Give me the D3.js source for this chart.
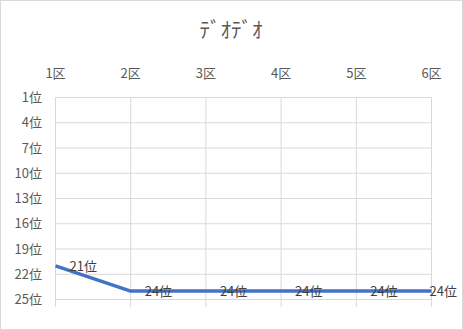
<!DOCTYPE html>
<html><head><meta charset="utf-8">
<script src="https://cdn.jsdelivr.net/npm/d3@7"></script>
<style>body{margin:0;background:#fff;} svg{display:block;}</style>
</head><body>
<svg id="c" width="463" height="330"></svg>
<script>
const title = "ﾃﾞｵﾃﾞｵ";
const categories = ["1区","2区","3区","4区","5区","6区"];
const ranks = [21,24,24,24,24,24];
const yTicks = [1,4,7,10,13,16,19,22,25];

const svg = d3.select("#c");
const font = "'Noto Sans CJK JP', sans-serif";
svg.append("rect").attr("x",0.5).attr("y",0.5).attr("width",462).attr("height",329)
  .attr("fill","#fff").attr("stroke","#d9d9d9");

const x = d3.scalePoint().domain(categories).range([55.5,431.5]);
const y = d3.scaleLinear().domain([1,25]).range([97.5,299.5]);

svg.append("g").selectAll("line").data(yTicks).join("line")
  .attr("x1",55.5).attr("x2",431.5).attr("y1",d=>y(d)).attr("y2",d=>y(d))
  .attr("stroke","#d9d9d9").attr("stroke-width",1);
svg.append("g").selectAll("line").data(categories).join("line")
  .attr("x1",d=>x(d)).attr("x2",d=>x(d)).attr("y1",97.5).attr("y2",307)
  .attr("stroke","#d9d9d9").attr("stroke-width",1);

svg.append("g").selectAll("text").data(yTicks).join("text")
  .attr("x",42).attr("y",d=>y(d)).attr("dy","0.36em").attr("text-anchor","end")
  .attr("font-family",font).attr("font-size",13).attr("fill","#595959")
  .text(d=>d+"位");
svg.append("g").selectAll("text").data(categories).join("text")
  .attr("x",d=>x(d)).attr("y",73).attr("dy","0.36em").attr("text-anchor","middle")
  .attr("font-family",font).attr("font-size",13).attr("fill","#595959")
  .text(d=>d);

svg.append("text").attr("x",231).attr("y",29).attr("dy","0.36em").attr("text-anchor","middle")
  .attr("font-family",font).attr("font-size",21).attr("fill","#595959").text(title);

const line = d3.line().x((d,i)=>x(categories[i])).y(d=>y(d));
svg.append("path").datum(ranks).attr("d",line).attr("fill","none")
  .attr("stroke","#4472C4").attr("stroke-width",3.5).attr("stroke-linejoin","round");

const n = ranks.length;
svg.append("g").selectAll("text").data(ranks).join("text")
  .attr("x",(d,i)=> i===n-1 ? 457 : x(categories[i])+14)
  .attr("text-anchor",(d,i)=> i===n-1 ? "end" : "start")
  .attr("y",d=>y(d)).attr("dy","0.36em")
  .attr("font-family",font).attr("font-size",13).attr("fill","#404040")
  .text(d=>d+"位");
</script>
</body></html>
